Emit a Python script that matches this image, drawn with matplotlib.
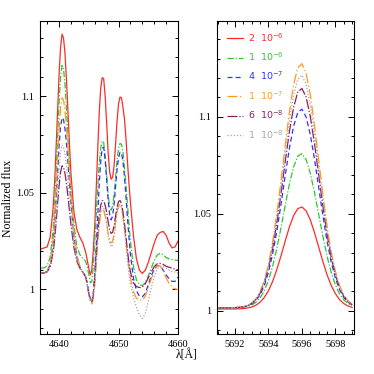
import matplotlib
matplotlib.use("Agg")
import matplotlib.pyplot as plt
from matplotlib.ticker import MultipleLocator, FormatStrFormatter

# --- data -----------------------------------------------------------------
labels = [r"2  $10^{-6}$", r"1  $10^{-6}$", r"4  $10^{-7}$",
          r"1  $10^{-7}$", r"6  $10^{-8}$", r"1  $10^{-8}$"]
colors = ["#ff2a2a", "#33c433", "#3030ff", "#ff9a1f", "#8c1f5e", "#a8a8a8"]
styles = ["-", (0, (5, 1.5, 1, 1.5)), (0, (4, 2.5)),
          (0, (8, 2, 1, 2)), (0, (8, 1.5, 1, 1.5)), (0, (1, 1.5))]

# left panel (C III / N III blend)
wl_left = [4637.0, 4637.5, 4638.0, 4638.5, 4639.0, 4639.25, 4639.5, 4639.75,
           4640.0, 4640.25, 4640.5, 4640.75, 4641.0, 4641.25, 4641.5, 4641.75,
           4642.0, 4642.5, 4643.0, 4643.5, 4644.0, 4644.5, 4645.0, 4645.25,
           4645.5, 4645.75, 4646.0, 4646.25, 4646.5, 4646.75, 4647.0, 4647.25,
           4647.5, 4647.75, 4648.0, 4648.25, 4648.5, 4648.75, 4649.0, 4649.25,
           4649.5, 4649.75, 4650.0, 4650.25, 4650.5, 4650.75, 4651.0, 4651.25,
           4651.5, 4651.75, 4652.0, 4652.5, 4653.0, 4653.5, 4654.0, 4654.5,
           4655.0, 4655.5, 4656.0, 4656.5, 4657.0, 4657.5, 4658.0, 4658.5,
           4659.0, 4659.5, 4660.0]

red_left = [1.021, 1.0215, 1.022, 1.027, 1.042, 1.055, 1.073, 1.092,
            1.111, 1.125, 1.132, 1.130, 1.122, 1.108, 1.092, 1.075,
            1.060, 1.040, 1.031, 1.027, 1.024, 1.019, 1.011, 1.0075,
            1.010, 1.020, 1.033, 1.052, 1.072, 1.091, 1.104, 1.1095,
            1.109, 1.100, 1.086, 1.071, 1.061, 1.057, 1.058, 1.064,
            1.075, 1.087, 1.096, 1.0995, 1.099, 1.094, 1.088, 1.078,
            1.066, 1.055, 1.045, 1.028, 1.016, 1.010, 1.0083, 1.010,
            1.014, 1.019, 1.024, 1.028, 1.0295, 1.030, 1.028, 1.024,
            1.0215, 1.022, 1.025]
green_left = [1.011, 1.0112, 1.0122, 1.0167, 1.031, 1.0436, 1.060, 1.078,
              1.096, 1.110, 1.1158, 1.114, 1.106, 1.093, 1.078, 1.063,
              1.052, 1.034, 1.022, 1.018, 1.016, 1.0145, 1.008, 1.0035,
              1.004, 1.012, 1.024, 1.039, 1.053, 1.065, 1.073, 1.0768,
              1.076, 1.069, 1.059, 1.049, 1.043, 1.041, 1.043, 1.049,
              1.058, 1.067, 1.073, 1.0755, 1.075, 1.071, 1.063, 1.054,
              1.044, 1.034, 1.025, 1.012, 1.005, 1.0025, 1.002, 1.0035,
              1.007, 1.011, 1.015, 1.0178, 1.0187, 1.018, 1.0165, 1.0158,
              1.0155, 1.0152, 1.015]
blue_left = [1.0085, 1.0086, 1.0094, 1.0129, 1.0238, 1.0335, 1.046, 1.060,
             1.0738, 1.0842, 1.0888, 1.0878, 1.083, 1.0754, 1.0657, 1.0552,
             1.0449, 1.0276, 1.0168, 1.0115, 1.009, 1.0068, 0.999, 0.995,
             0.9936, 0.998, 1.008, 1.022, 1.038, 1.054, 1.066, 1.073,
             1.0735, 1.067, 1.057, 1.046, 1.039, 1.036, 1.038, 1.044,
             1.053, 1.062, 1.068, 1.071, 1.0705, 1.066, 1.058, 1.048,
             1.037, 1.027, 1.018, 1.006, 0.9995, 0.9965, 0.9962, 0.998,
             1.0025, 1.007, 1.0105, 1.0123, 1.0123, 1.010, 1.0075, 1.0055,
             1.0042, 1.0042, 1.0065]
orange_left = [1.0085, 1.0086, 1.0095, 1.0135, 1.0258, 1.0366, 1.0508, 1.0668,
               1.0821, 1.0939, 1.0991, 1.0979, 1.0926, 1.084, 1.0731, 1.0612,
               1.0495, 1.030, 1.018, 1.012, 1.0088, 1.006, 0.998, 0.994,
               0.9925, 0.995, 1.002, 1.013, 1.024, 1.033, 1.039, 1.0415,
               1.041, 1.038, 1.034, 1.029, 1.0255, 1.024, 1.025, 1.029,
               1.035, 1.040, 1.0435, 1.044, 1.0425, 1.038, 1.032, 1.025,
               1.018, 1.011, 1.006, 0.999, 0.9955, 0.9945, 0.9945, 0.9965,
               1.001, 1.0055, 1.0095, 1.0122, 1.0122, 1.0095, 1.006, 1.003,
               1.0012, 1.0003, 1.000]
purple_left = [1.0085, 1.0086, 1.0091, 1.0115, 1.019, 1.0257, 1.0344, 1.0441,
               1.0535, 1.0607, 1.0639, 1.0632, 1.0599, 1.0546, 1.048, 1.0407,
               1.0336, 1.0217, 1.0145, 1.011, 1.0088, 1.0065, 0.998, 0.9945,
               0.9936, 0.997, 1.006, 1.018, 1.029, 1.038, 1.0435, 1.046,
               1.0458, 1.0435, 1.040, 1.035, 1.031, 1.029, 1.0295, 1.033,
               1.038, 1.0425, 1.0455, 1.046, 1.0445, 1.040, 1.034, 1.027,
               1.020, 1.014, 1.009, 1.0035, 1.0015, 1.001, 1.0013, 1.003,
               1.006, 1.009, 1.0118, 1.0133, 1.0135, 1.013, 1.012, 1.0115,
               1.011, 1.0105, 1.010]
gray_left = [1.0085, 1.0086, 1.0092, 1.012, 1.021, 1.029, 1.0394, 1.051,
             1.0623, 1.0708, 1.0747, 1.0738, 1.0699, 1.0636, 1.0556, 1.047,
             1.0385, 1.0242, 1.0155, 1.011, 1.0088, 1.0065, 0.998, 0.9945,
             0.994, 0.997, 1.004, 1.015, 1.026, 1.035, 1.041, 1.043,
             1.0425, 1.039, 1.034, 1.028, 1.024, 1.022, 1.023, 1.027,
             1.033, 1.039, 1.0425, 1.043, 1.0415, 1.037, 1.030, 1.022,
             1.015, 1.008, 1.003, 0.996, 0.991, 0.987, 0.985, 0.9875,
             0.994, 1.001, 1.0065, 1.0105, 1.012, 1.0118, 1.011, 1.010,
             1.0092, 1.009, 1.0085]

# right panel (Si III 5696)
wl_right = [5691.0, 5691.25, 5691.5, 5691.75, 5692.0, 5692.25, 5692.5, 5692.75,
            5693.0, 5693.25, 5693.5, 5693.75, 5694.0, 5694.25, 5694.5, 5694.75,
            5695.0, 5695.25, 5695.5, 5695.75, 5696.0, 5696.25, 5696.5, 5696.75,
            5697.0, 5697.25, 5697.5, 5697.75, 5698.0, 5698.25, 5698.5, 5698.75,
            5699.0]

red_right = [1.0009, 1.0009, 1.0009, 1.0009, 1.0009, 1.0010, 1.0011, 1.0014,
             1.0019, 1.0028, 1.0044, 1.0068, 1.0103, 1.0151, 1.0212, 1.0283,
             1.0359, 1.0431, 1.0490, 1.0526, 1.0535, 1.0515, 1.0469, 1.0403,
             1.0329, 1.0254, 1.0186, 1.0130, 1.0088, 1.0057, 1.0037, 1.0024,
             1.0017]
green_right = [1.0014, 1.0014, 1.0014, 1.0014, 1.0015, 1.0016, 1.0018, 1.0022,
               1.0029, 1.0043, 1.0066, 1.0103, 1.0156, 1.0229, 1.0321, 1.0428,
               1.0543, 1.0652, 1.0741, 1.0797, 1.0810, 1.0779, 1.0709, 1.0610,
               1.0498, 1.0385, 1.0282, 1.0197, 1.0133, 1.0086, 1.0056, 1.0037,
               1.0026]
blue_right = [1.0015, 1.0015, 1.0015, 1.0015, 1.0016, 1.0017, 1.0020, 1.0025,
              1.0035, 1.0053, 1.0082, 1.0129, 1.0198, 1.0292, 1.0410, 1.0548,
              1.0696, 1.0836, 1.0950, 1.1022, 1.1039, 1.0999, 1.0909, 1.0782,
              1.0637, 1.0492, 1.0359, 1.0251, 1.0168, 1.0108, 1.0069, 1.0044,
              1.0030]
orange_right = [1.0015, 1.0015, 1.0015, 1.0015, 1.0016, 1.0018, 1.0021, 1.0027,
                1.0039, 1.0061, 1.0098, 1.0155, 1.0239, 1.0355, 1.0500, 1.0670,
                1.0852, 1.1024, 1.1164, 1.1252, 1.1274, 1.1225, 1.1114, 1.0958,
                1.0780, 1.0601, 1.0438, 1.0305, 1.0203, 1.0129, 1.0081, 1.0051,
                1.0034]
purple_right = [1.0015, 1.0015, 1.0015, 1.0015, 1.0016, 1.0017, 1.0020, 1.0026,
                1.0037, 1.0057, 1.0089, 1.0141, 1.0217, 1.0321, 1.0451, 1.0604,
                1.0767, 1.0922, 1.1047, 1.1127, 1.1146, 1.1102, 1.1002, 1.0862,
                1.0702, 1.0541, 1.0395, 1.0275, 1.0184, 1.0118, 1.0074, 1.0047,
                1.0032]
gray_right = [1.0015, 1.0015, 1.0015, 1.0015, 1.0016, 1.0017, 1.0020, 1.0027,
              1.0038, 1.0059, 1.0094, 1.0148, 1.0229, 1.0339, 1.0477, 1.0639,
              1.0812, 1.0976, 1.1109, 1.1193, 1.1214, 1.1167, 1.1061, 1.0913,
              1.0743, 1.0573, 1.0418, 1.0291, 1.0194, 1.0124, 1.0078, 1.0049,
              1.0033]

left_series = [red_left, green_left, blue_left, orange_left, purple_left, gray_left]
right_series = [red_right, green_right, blue_right, orange_right, purple_right, gray_right]

# --- figure ------------------------------------------------------------------
plt.rcParams["font.family"] = ["Liberation Serif", "DejaVu Serif"]
plt.rcParams["mathtext.fontset"] = "dejavusans"

fig = plt.figure(figsize=(3.74, 3.74), dpi=100)
ax1 = fig.add_axes([0.107, 0.107, 0.369, 0.838])
ax2 = fig.add_axes([0.579, 0.107, 0.367, 0.838])


def style_axis(ax, xmaj, xmin, xlim, ylim):
    ax.set_xlim(*xlim)
    ax.set_ylim(*ylim)
    ax.xaxis.set_major_locator(MultipleLocator(xmaj))
    ax.xaxis.set_minor_locator(MultipleLocator(xmin))
    ax.yaxis.set_major_locator(MultipleLocator(0.05))
    ax.yaxis.set_minor_locator(MultipleLocator(0.01))
    ax.yaxis.set_major_formatter(FormatStrFormatter("%g"))
    ax.tick_params(which="both", direction="in", top=True, right=True,
                   labelsize=7.4, width=0.7)
    ax.tick_params(which="major", length=4.5, pad=4)
    ax.tick_params(which="minor", length=2.5)
    for sp in ax.spines.values():
        sp.set_linewidth(0.8)


for ys, c, ls in zip(left_series, colors, styles):
    ax1.plot(wl_left, ys, color=c, linestyle=ls, lw=0.9)
for ys, c, ls, lab in zip(right_series, colors, styles, labels):
    ax2.plot(wl_right, ys, color=c, linestyle=ls, lw=0.9, label=lab)

style_axis(ax1, 10, 2, (4636.8, 4660), (0.977, 1.139))
style_axis(ax2, 2, 0.5, (5690.9, 5699.1), (0.988, 1.1496))

leg = ax2.legend(loc="upper left", frameon=False, handlelength=1.75,
                 handletextpad=0.5, labelspacing=0.72, borderaxespad=0.7,
                 prop={"family": "DejaVu Sans", "size": 6.8},
                 bbox_to_anchor=(0.0, 1.0))
for txt, c in zip(leg.get_texts(), colors):
    txt.set_color(c)

fig.text(0.022, 0.47, "Normalized flux", rotation=90, ha="center",
         va="center", fontsize=8.5)
fig.text(0.5, 0.05, "λ[Å]", ha="center", va="center", fontsize=8.5)

fig.savefig("out.png", dpi=100)
